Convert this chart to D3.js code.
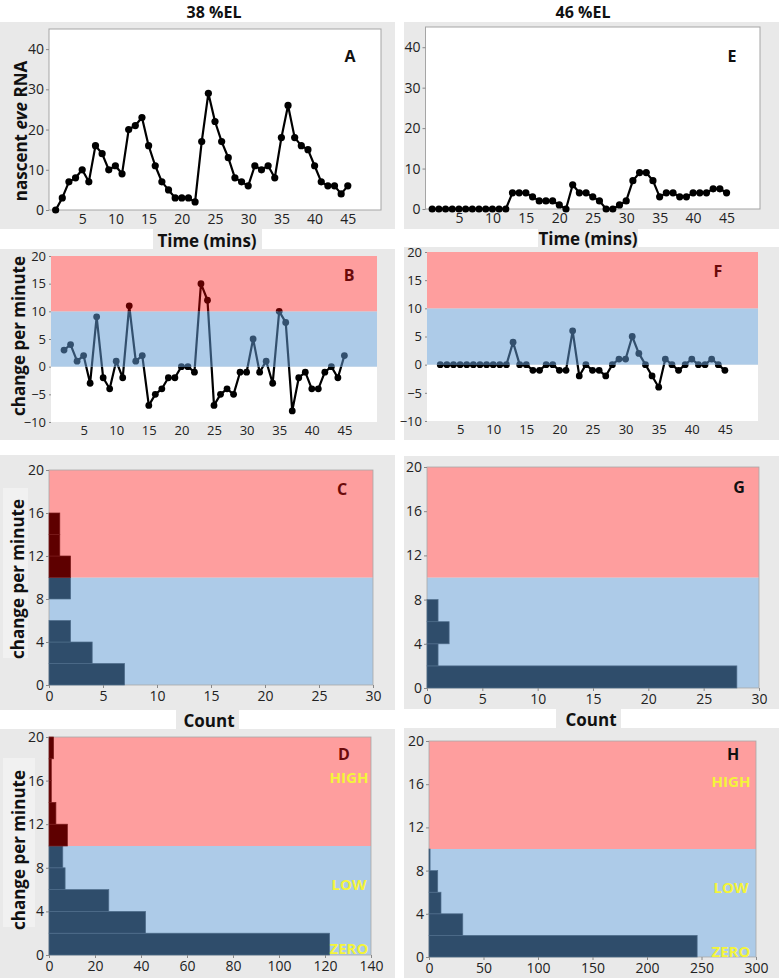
<!DOCTYPE html>
<html><head><meta charset="utf-8">
<script src="https://cdn.jsdelivr.net/npm/d3@7"></script>
<style>
body{margin:0;background:#fff}
svg{display:block}
text{font-family:"Open Sans","Noto Sans",sans-serif}
</style>
</head><body><svg id="chart" width="779" height="978"></svg>
<script>
// ---------------- DATA ----------------
const minutes = [1,2,3,4,5,6,7,8,9,10,11,12,13,14,15,16,17,18,19,20,21,22,23,24,25,26,27,28,29,30,31,32,33,34,35,36,37,38,39,40,41,42,43,44,45];
const rna38 = [0,3,7,8,10,7,16,14,10,11,9,20,21,23,16,11,7,5,3,3,3,2,17,29,22,17,13,8,7,6,11,10,11,8,18,26,18,16,15,11,7,6,6,4,6];
const rna46 = [0,0,0,0,0,0,0,0,0,0,0,0,4,4,4,3,2,2,2,1,0,6,4,4,3,2,0,0,1,2,7,9,9,7,3,4,4,3,3,4,4,4,5,5,4];
const changeMinutes = [2,3,4,5,6,7,8,9,10,11,12,13,14,15,16,17,18,19,20,21,22,23,24,25,26,27,28,29,30,31,32,33,34,35,36,37,38,39,40,41,42,43,44,45];
const change38 = [3,4,1,2,-3,9,-2,-4,1,-2,11,1,2,-7,-5,-4,-2,-2,0,0,-1,15,12,-7,-5,-4,-5,-1,-1,5,-1,1,-3,10,8,-8,-2,-1,-4,-4,-1,0,-2,2];
const change46 = [0,0,0,0,0,0,0,0,0,0,0,4,0,0,-1,-1,0,0,-1,-1,6,-2,0,-1,-1,-2,0,1,1,5,2,0,-2,-4,1,0,-1,0,1,0,0,1,0,-1];
const binStarts = [0,2,4,6,8,10,12,14,16,18];
const binWidth = 2;
const count38 = [7,4,2,0,2,2,1,1,0,0];
const count46 = [28,1,2,1,0,0,0,0,0,0];
const countAll38 = [122,42,26,7,6,8,3,1,1,2];
const countAll46 = [246,31,11,8,1,0,0,0,0,0];
const rnaTicks = [0,10,20,30,40];
const timeTicks = [5,10,15,20,25,30,35,40,45];
const changeTicks = [-10,-5,0,5,10,15,20];
const histYTicks = [0,4,8,12,16,20];
const countTicksC = [0,5,10,15,20,25,30];
const countTicksD = [0,20,40,60,80,100,120,140];
const countTicksH = [0,50,100,150,200,250,300];
const columnTitles = ["38 %EL","46 %EL"];

// ---------------- STYLE ----------------
const GRAY = "#e9e9e9";
const RED_BAND = "#fe9e9e";
const BLUE_BAND = "#adcbe8";
const DARK_BLUE = "#2f4d6b";
const DARK_RED = "#5e0000";
const LETTER_RED = "#6b0a0a";
const YELLOW = "#f4f43a";
const FONT = '"Open Sans","Noto Sans",sans-serif';

const svg = d3.select("#chart");
const defs = svg.append("defs");

function rect(x0,y0,x1,y1,fill){
  return svg.append("rect").attr("x",x0).attr("y",y0).attr("width",x1-x0).attr("height",y1-y0).attr("fill",fill);
}
function label(x,y,txt,opts={}){
  const t = svg.append("text").attr("x",x).attr("y",y).text(txt)
    .attr("text-anchor",opts.anchor||"middle")
    .attr("dominant-baseline",opts.baseline||"central")
    .style("font-size",(opts.size||15)+"px")
    .style("font-weight",opts.weight||"bold")
    .attr("fill",opts.fill||"#111");
  return t;
}
function styleAxis(g,fs){
  g.attr("font-family",FONT).attr("font-size",fs);
  g.select(".domain").remove();
  g.selectAll(".tick line").attr("stroke","#888");
  g.selectAll(".tick text").attr("fill","#222");
}
function yLabel(cx,cy,parts){
  const t = svg.append("text").attr("transform",`translate(${cx},${cy}) rotate(-90)`)
    .attr("text-anchor","middle").attr("dominant-baseline","central")
    .style("font-size","17px").style("font-weight","bold").attr("fill","#111");
  parts.forEach(p=>t.append("tspan").text(p.t).style("font-style",p.i?"italic":"normal"));
}

// panel backgrounds
rect(0,22,395,229,GRAY); rect(404,22,779,229,GRAY);
rect(0,249,395,440,GRAY); rect(404,247,779,440,GRAY);
rect(0,455,395,710,GRAY); rect(404,456,779,709,GRAY);
rect(0,729,395,978,GRAY); rect(404,728,779,978,GRAY);
// label boxes
rect(153,229,262,251,GRAY); rect(538,229,638,249,GRAY);
rect(176,709,239,731,GRAY); rect(556,708,621,730,GRAY);
rect(3,488,28,658,"#f1f1f1"); rect(3,758,35,927,"#f1f1f1");

// column titles
label(214,18,columnTitles[0],{size:16,baseline:"alphabetic"});
label(583,18,columnTitles[1],{size:16,baseline:"alphabetic"});

// ---------------- LINE PANELS (A, E) ----------------
function rnaPanel(xr,yr,values,letter,lx,ly){
  const x = d3.scaleLinear().domain([0,50]).range(xr);
  const y = d3.scaleLinear().domain([0,45]).range(yr);
  svg.append("rect").attr("x",xr[0]).attr("y",yr[1]).attr("width",xr[1]-xr[0]).attr("height",yr[0]-yr[1])
    .attr("fill","#fff").attr("stroke","#a5a5a5").attr("stroke-width",1);
  const ga = svg.append("g").attr("transform",`translate(${xr[0]},0)`)
    .call(d3.axisLeft(y).tickValues(rnaTicks).tickSize(3).tickPadding(2));
  styleAxis(ga,14);
  const gx = svg.append("g").attr("transform",`translate(0,${yr[0]})`)
    .call(d3.axisBottom(x).tickValues(timeTicks).tickSize(0).tickPadding(4));
  styleAxis(gx,14);
  const pts = minutes.map((m,i)=>[m,values[i]]);
  svg.append("path").datum(pts)
    .attr("d",d3.line().x(d=>x(d[0])).y(d=>y(d[1])))
    .attr("fill","none").attr("stroke","#000").attr("stroke-width",2.2).attr("stroke-linejoin","round");
  svg.append("g").selectAll("circle").data(pts).join("circle")
    .attr("cx",d=>x(d[0])).attr("cy",d=>y(d[1])).attr("r",3.6).attr("fill","#000");
  label(lx,ly,letter,{size:16});
}
rnaPanel([49,381],[210,29],rna38,"A",350,56);
rnaPanel([425.5,760],[209,27],rna46,"E",732,56);
label(207,240,"Time (mins)",{size:17});
label(588,238,"Time (mins)",{size:17});
yLabel(20,131,[{t:"nascent "},{t:"eve",i:true},{t:" RNA"}]);

// ---------------- CHANGE PANELS (B, F) ----------------
let clipId = 0;
function changePanel(xr,yr,values,letter,lx,ly){
  const x = d3.scaleLinear().domain([0,50]).range(xr);
  const y = d3.scaleLinear().domain([-10,20]).range(yr);
  const w = xr[1]-xr[0];
  svg.append("rect").attr("x",xr[0]).attr("y",y(0)).attr("width",w).attr("height",y(-10)-y(0)).attr("fill","#fff");
  svg.append("rect").attr("x",xr[0]).attr("y",y(10)).attr("width",w).attr("height",y(0)-y(10)).attr("fill",BLUE_BAND);
  svg.append("rect").attr("x",xr[0]).attr("y",y(20)).attr("width",w).attr("height",y(10)-y(20)).attr("fill",RED_BAND);
  const ga = svg.append("g").attr("transform",`translate(${xr[0]},0)`)
    .call(d3.axisLeft(y).tickValues(changeTicks).tickSize(2).tickPadding(3));
  styleAxis(ga,13);
  const gx = svg.append("g").attr("transform",`translate(0,${yr[0]})`)
    .call(d3.axisBottom(x).tickValues(timeTicks).tickSize(0).tickPadding(4));
  styleAxis(gx,13);
  const pts = changeMinutes.map((m,i)=>[m,values[i]]);
  const bands = [
    {lo:-12,hi:0,color:"#000"},
    {lo:0,hi:10,color:"#33506e"},
    {lo:10,hi:22,color:DARK_RED}
  ];
  bands.forEach(b=>{
    const id = "clip"+(clipId++);
    defs.append("clipPath").attr("id",id).append("rect")
      .attr("x",xr[0]-10).attr("width",w+20)
      .attr("y",y(b.hi)).attr("height",y(b.lo)-y(b.hi));
    const g = svg.append("g").attr("clip-path",`url(#${id})`);
    g.append("path").datum(pts)
      .attr("d",d3.line().x(d=>x(d[0])).y(d=>y(d[1])))
      .attr("fill","none").attr("stroke",b.color).attr("stroke-width",2.2).attr("stroke-linejoin","round");
    g.selectAll("circle").data(pts).join("circle")
      .attr("cx",d=>x(d[0])).attr("cy",d=>y(d[1])).attr("r",3.4).attr("fill",b.color);
  });
  label(lx,ly,letter,{size:16,fill:LETTER_RED});
}
changePanel([51,377],[422,256],change38,"B",349,275);
changePanel([427,758],[421,252],change46,"F",718,271);
yLabel(18,336,[{t:"change per minute"}]);

// ---------------- HISTOGRAM PANELS (C, G, D, H) ----------------
function histPanel(xr,yr,xmax,xticks,counts,letter,lx,ly,letterFill,tags,tagX){
  const x = d3.scaleLinear().domain([0,xmax]).range(xr);
  const y = d3.scaleLinear().domain([0,20]).range(yr);
  const w = xr[1]-xr[0];
  svg.append("rect").attr("x",xr[0]).attr("y",y(10)).attr("width",w).attr("height",y(0)-y(10)).attr("fill",BLUE_BAND);
  svg.append("rect").attr("x",xr[0]).attr("y",y(20)).attr("width",w).attr("height",y(10)-y(20)).attr("fill",RED_BAND);
  svg.append("rect").attr("x",xr[0]).attr("y",yr[1]).attr("width",w).attr("height",yr[0]-yr[1])
    .attr("fill","none").attr("stroke","#a8a8a8").attr("stroke-width",0.8);
  const bins = binStarts.map((b,i)=>({b,c:counts[i]})).filter(d=>d.c>0);
  svg.append("g").selectAll("rect").data(bins).join("rect")
    .attr("x",x(0)).attr("width",d=>x(d.c)-x(0))
    .attr("y",d=>y(d.b+binWidth)).attr("height",d=>y(d.b)-y(d.b+binWidth))
    .attr("fill",d=>d.b>=10?DARK_RED:DARK_BLUE)
    .attr("stroke",d=>d.b>=10?"#7a1c1c":"#4f6d8b").attr("stroke-width",0.7);
  const ga = svg.append("g").attr("transform",`translate(${xr[0]},0)`)
    .call(d3.axisLeft(y).tickValues(histYTicks).tickSize(3).tickPadding(2));
  styleAxis(ga,14);
  const gx = svg.append("g").attr("transform",`translate(0,${yr[0]})`)
    .call(d3.axisBottom(x).tickValues(xticks).tickSize(3).tickPadding(3));
  styleAxis(gx,14);
  label(lx,ly,letter,{size:16,fill:letterFill});
  if(tags){
    label(tagX,y(16.3),"HIGH",{size:15,fill:YELLOW});
    label(tagX,y(6.5),"LOW",{size:15,fill:YELLOW});
    label(tagX,y(0.6),"ZERO",{size:15,fill:YELLOW});
  }
}
histPanel([49,373],[685,470],30,countTicksC,count38,"C",342,489,LETTER_RED,false);
histPanel([427,759],[688,467],30,countTicksC,count46,"G",739,487,"#111",false);
histPanel([49,371],[955,737],140,countTicksD,countAll38,"D",344,754,LETTER_RED,true,349);
histPanel([429,756],[957,741],300,countTicksH,countAll46,"H",733,754,"#111",true,731);
label(209,720,"Count",{size:17});
label(591,719,"Count",{size:17});
yLabel(17,579,[{t:"change per minute"}]);
yLabel(18,850,[{t:"change per minute"}]);
</script>
</body></html>
